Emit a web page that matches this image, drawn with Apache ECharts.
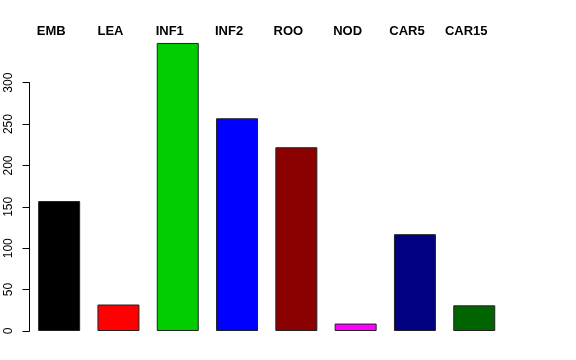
<!DOCTYPE html>
<html>
<head>
<meta charset="utf-8">
<script src="https://cdn.jsdelivr.net/npm/echarts@6/dist/echarts.min.js"></script>
<style>
html,body{margin:0;padding:0;background:#fff;}
#chart{width:576px;height:360px;}
</style>
</head>
<body>
<div id="chart"></div>
<script>
var categories = ["EMB", "LEA", "INF1", "INF2", "ROO", "NOD", "CAR5", "CAR15"];
var values = [157, 32, 348, 257, 222, 9, 117, 31];
var yTicks = [0, 50, 100, 150, 200, 250, 300];

var palette = ["#000000", "#FF0000", "#00CD00", "#0000FF", "#8B0000", "#FF00FF", "#000080", "#006400"];
var font = "'Liberation Sans', Arial, Helvetica, sans-serif";

var chart = echarts.init(document.getElementById('chart'), null, {renderer: 'canvas'});
chart.setOption({
  animation: false,
  backgroundColor: '#ffffff',
  grid: [
    {left: 29.5, width: 474.4, top: 41.3, bottom: 29},
    {left: 29.5, width: 474.4, top: 82.7, bottom: 29}
  ],
  xAxis: [
    {
      type: 'category', gridIndex: 0, position: 'top', data: categories,
      axisLine: {show: false}, axisTick: {show: false},
      axisLabel: {
        interval: 0, margin: 3,
        formatter: function (v) { return '{t|' + v + '}{s|}'; },
        rich: {
          t: {fontFamily: font, fontWeight: 'bold', fontSize: 13, color: '#000', lineHeight: 14},
          s: {width: 16}
        }
      }
    },
    {
      type: 'category', gridIndex: 1, data: categories, show: false
    }
  ],
  yAxis: [
    {type: 'value', gridIndex: 0, min: 0, max: 350, show: false, splitLine: {show: false}},
    {
      type: 'value', gridIndex: 1, min: yTicks[0], max: yTicks[yTicks.length - 1], interval: 50,
      axisLine: {show: true, lineStyle: {color: '#000', width: 1}},
      axisTick: {show: true, length: 7, lineStyle: {color: '#000', width: 1}},
      splitLine: {show: false},
      axisLabel: {rotate: 90, margin: 15, fontFamily: font, fontSize: 12, color: '#000'}
    }
  ],
  series: [{
    type: 'bar', xAxisIndex: 0, yAxisIndex: 0,
    barWidth: 42,
    data: values.map(function (v, i) {
      return {value: v, itemStyle: {color: palette[i]}};
    }),
    itemStyle: {borderColor: '#222', borderWidth: 1}
  }]
});
</script>
</body>
</html>
